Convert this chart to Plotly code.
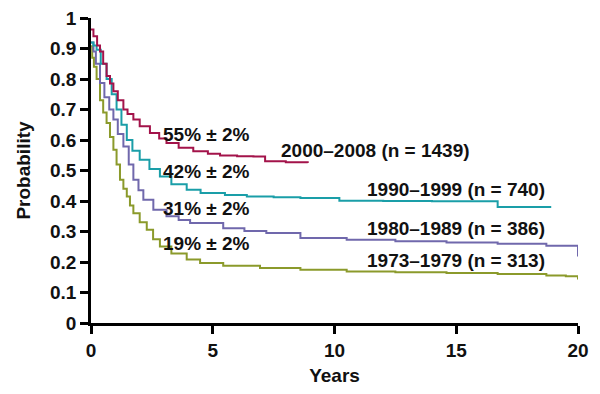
import plotly.graph_objects as go

# 2000-2008 (n = 1439)
x_2000 = [0, 0.1, 0.25, 0.37, 0.5, 0.64, 0.78, 0.92, 1.1, 1.33, 1.5, 1.74, 2.0, 2.42, 2.8, 3.1, 3.6, 4.2, 4.8, 5.3, 6.0, 6.67, 7.15, 8.0, 8.9]
y_2000 = [0.962, 0.94, 0.91, 0.89, 0.85, 0.81, 0.785, 0.76, 0.73, 0.70, 0.685, 0.667, 0.645, 0.623, 0.605, 0.59, 0.575, 0.563, 0.555, 0.549, 0.547, 0.546, 0.53, 0.527, 0.525]

# 1990-1999 (n = 740)
x_1990 = [0, 0.1, 0.23, 0.4, 0.64, 0.85, 1.05, 1.25, 1.47, 1.7, 2.0, 2.4, 2.83, 3.3, 3.93, 4.5, 5.5, 6.4, 7.5, 8.6, 10.2, 12, 14, 16.7, 18.9]
y_1990 = [0.92, 0.91, 0.896, 0.85, 0.80, 0.75, 0.70, 0.65, 0.60, 0.565, 0.535, 0.505, 0.48, 0.455, 0.437, 0.426, 0.42, 0.415, 0.412, 0.41, 0.401, 0.400, 0.399, 0.38, 0.38]

# 1980-1989 (n = 386)
x_1980 = [0, 0.1, 0.2, 0.37, 0.55, 0.75, 0.92, 1.1, 1.33, 1.55, 1.74, 1.95, 2.15, 2.56, 3.1, 3.6, 4.07, 5.43, 6.3, 7.2, 8.6, 10.5, 12.5, 14.6, 16.7, 18.7, 20]
y_1980 = [0.92, 0.89, 0.85, 0.787, 0.74, 0.70, 0.667, 0.62, 0.579, 0.52, 0.47, 0.435, 0.404, 0.371, 0.35, 0.338, 0.328, 0.311, 0.302, 0.295, 0.279, 0.273, 0.268, 0.264, 0.26, 0.253, 0.218]

# 1973-1979 (n = 313)
x_1973 = [0, 0.05, 0.12, 0.23, 0.37, 0.5, 0.64, 0.78, 0.92, 1.05, 1.19, 1.33, 1.47, 1.6, 1.74, 2.0, 2.29, 2.55, 2.83, 3.3, 3.93, 4.48, 5.43, 6.94, 8.6, 10.5, 12.5, 14.6, 16.7, 18.7, 19.5, 20]
y_1973 = [0.907, 0.87, 0.84, 0.80, 0.73, 0.69, 0.656, 0.61, 0.568, 0.52, 0.47, 0.44, 0.415, 0.385, 0.36, 0.33, 0.306, 0.275, 0.251, 0.228, 0.208, 0.197, 0.188, 0.18, 0.175, 0.169, 0.166, 0.164, 0.161, 0.156, 0.153, 0.143]

pct_labels = ["55% ± 2%", "42% ± 2%", "31% ± 2%", "19% ± 2%"]
pct_x = [4.75, 4.75, 4.75, 4.75]
pct_y = [0.617, 0.497, 0.377, 0.262]

series_labels = ["2000–2008 (n = 1439)", "1990–1999 (n = 740)", "1980–1989 (n = 386)", "1973–1979 (n = 313)"]
series_lab_x = [11.68, 14.98, 14.98, 14.98]
series_lab_y = [0.566, 0.437, 0.311, 0.205]

x_ticks = [0, 5, 10, 15, 20]
y_ticks = [0, 0.1, 0.2, 0.3, 0.4, 0.5, 0.6, 0.7, 0.8, 0.9, 1]
y_tick_text = ["0", "0.1", "0.2", "0.3", "0.4", "0.5", "0.6", "0.7", "0.8", "0.9", "1"]

colors = ["#A3134A", "#1A9EA8", "#7068AC", "#8B9A2B"]

FONT = "Liberation Sans, Arial, sans-serif"
FS = 19

fig = go.Figure()
for xs, ys, c in [(x_1973, y_1973, colors[3]), (x_1980, y_1980, colors[2]),
                  (x_1990, y_1990, colors[1]), (x_2000, y_2000, colors[0])]:
    fig.add_trace(go.Scatter(x=xs, y=ys, mode="lines", line=dict(color=c, width=2, shape="hv"),
                             showlegend=False, hoverinfo="skip"))

for t, x, y in zip(pct_labels, pct_x, pct_y):
    fig.add_annotation(x=x, y=y, text=t, showarrow=False, xanchor="center", yanchor="middle",
                       font=dict(family=FONT, size=FS, color="#111111", weight="bold"))
for t, x, y in zip(series_labels, series_lab_x, series_lab_y):
    fig.add_annotation(x=x, y=y, text=t, showarrow=False, xanchor="center", yanchor="middle",
                       font=dict(family=FONT, size=FS, color="#111111", weight="bold"))

axis_common = dict(showgrid=False, zeroline=False, showline=True, linecolor="#000000", linewidth=2.5,
                   ticks="outside", ticklen=8, tickwidth=2.5, tickcolor="#000000",
                   automargin=False, ticklabeloverflow="allow",
                   tickfont=dict(family=FONT, size=FS, color="#111111", weight="bold"))

fig.update_xaxes(range=[0, 20], tickvals=x_ticks, ticktext=[str(v) for v in x_ticks],
                 title=dict(text="Years", font=dict(family=FONT, size=FS, color="#111111", weight="bold"), standoff=12),
                 **axis_common)
fig.update_yaxes(range=[0, 1], tickvals=y_ticks, ticktext=y_tick_text,
                 title=dict(text="Probability", font=dict(family=FONT, size=FS, color="#111111", weight="bold"), standoff=15),
                 **axis_common)

fig.update_layout(width=584, height=378, margin=dict(l=83, r=14, t=10, b=63, autoexpand=False),
                  plot_bgcolor="white", paper_bgcolor="white")

fig.write_html("out.html")
